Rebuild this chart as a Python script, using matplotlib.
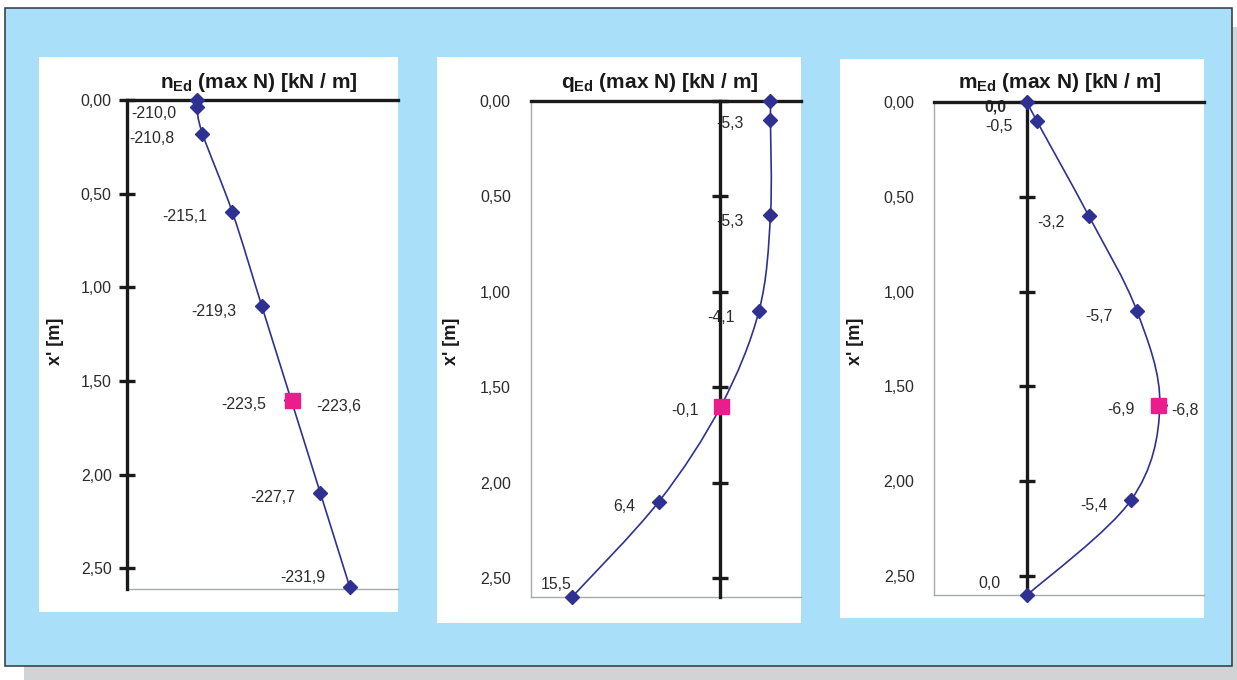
import numpy as np
import matplotlib
matplotlib.use("Agg")
import matplotlib.pyplot as plt
from matplotlib.patches import Rectangle, PathPatch
from matplotlib.path import Path

plt.rcParams['font.family'] = ['Liberation Sans', 'DejaVu Sans']
plt.rcParams['mathtext.fontset'] = 'custom'
plt.rcParams['mathtext.rm'] = 'Liberation Sans'
plt.rcParams['mathtext.bf'] = 'Liberation Sans:bold'
plt.rcParams['mathtext.it'] = 'Liberation Sans:italic'

# ---------------- data ----------------
xprime_n = [0.0, 0.035, 0.18, 0.6, 1.1, 1.6, 2.1, 2.6]
n_Ed = [-210.0, -210.0, -210.8, -215.1, -219.3, -223.5, -227.7, -231.9]
xprime = [0.0, 0.1, 0.6, 1.1, 1.6, 2.1, 2.6]
q_Ed = [-5.3, -5.3, -5.3, -4.1, -0.1, 6.4, 15.5]
m_Ed = [0.0, -0.5, -3.2, -5.7, -6.9, -5.4, 0.0]
x_max_N = 1.6
n_max = -223.6
q_max = -0.1
m_max = -6.8
ytick_vals = [0.0, 0.5, 1.0, 1.5, 2.0, 2.5]
ytick_labels = ["0,00", "0,50", "1,00", "1,50", "2,00", "2,50"]
titles = [r"$\mathbf{n_{Ed}}$ (max N) [kN / m]",
          r"$\mathbf{q_{Ed}}$ (max N) [kN / m]",
          r"$\mathbf{m_{Ed}}$ (max N) [kN / m]"]
ylabel = "x' [m]"

# ---------------- style ----------------
W, H = 1237, 680
BG = '#A9DFF9'
SHADOW = '#D1D3D4'
FRAME = '#2E3640'
NAVY = '#2E3192'
PINK = '#EC1C8C'
TXT = '#2B2B2B'
GREY = '#A7A9AC'
AXK = '#1A1A1A'
NUM_FS = 11.4


def frac(x0, y0, x1, y1):
    return [x0 / W, 1 - y1 / H, (x1 - x0) / W, (y1 - y0) / H]


def fmt(v):
    return f"{v:.1f}".replace('.', ',')


def smooth_path(xs, ys):
    pts = np.column_stack([xs, ys]).astype(float)
    n = len(pts)
    verts = [pts[0]]
    codes = [Path.MOVETO]
    for i in range(n - 1):
        p0 = pts[i - 1] if i > 0 else pts[i]
        p1 = pts[i]
        p2 = pts[i + 1]
        p3 = pts[i + 2] if i + 2 < n else pts[i + 1]
        c1 = p1 + (p2 - p0) / 6.0
        c2 = p2 - (p3 - p1) / 6.0
        verts += [c1, c2, p2]
        codes += [Path.CURVE4] * 3
    return Path(verts, codes)


fig = plt.figure(figsize=(W / 100, H / 100), dpi=100)
fig.patch.set_facecolor('white')

# shadow + frame
fig.add_artist(Rectangle((24 / W, 0), (W - 24) / W, (680 - 27) / H,
                         transform=fig.transFigure, facecolor=SHADOW,
                         edgecolor='none', zorder=0))
fig.add_artist(Rectangle((5 / W, 1 - 666 / H), (1232 - 5) / W, (666 - 8) / H,
                         transform=fig.transFigure, facecolor=BG,
                         edgecolor=FRAME, linewidth=1.1, zorder=0.5))

panels = [
    dict(box=(39, 57, 398, 612), ax=(127, 100, 398, 589), xlim=(-200, -238.8),
         ylim=(2.61, 0), axis_at=-200, xs=n_Ed, ys=xprime_n, vmax=n_max,
         offs=[None, (-43, 5), (-51, 3), (-48, 3), (-48, 4), (-47, 3), (-48, 3), (-47, -11)],
         off_max=(47, 5), title_x=259, ylab_x=56, pad=11),
    dict(box=(437, 57, 801, 623), ax=(531, 101, 801, 597), xlim=(19.8, -8.5),
         ylim=(2.6, 0), axis_at=0, xs=q_Ed, ys=xprime, vmax=q_max,
         offs=[None, (-41, 2), (-41, 5), (-38, 5), (-36, 3), (-35, 3), (-16, -14)],
         off_max=None, title_x=660, ylab_x=452, pad=14.5),
    dict(box=(840, 59, 1204, 618), ax=(934, 102, 1204, 595), xlim=(4.85, -9.2),
         ylim=(2.6, 0), axis_at=0, xs=m_Ed, ys=xprime, vmax=m_max,
         offs=[(-32, 4), (-38, 4), (-38, 5), (-38, 4), (-39, 3), (-37, 4), (-38, -13)],
         off_max=(27, 4), title_x=1060, ylab_x=856, pad=14),
]

for k, p in enumerate(panels):
    x0, y0, x1, y1 = p['box']
    fig.add_artist(Rectangle((x0 / W, 1 - y1 / H), (x1 - x0) / W, (y1 - y0) / H,
                             transform=fig.transFigure, facecolor='white',
                             edgecolor='none', zorder=1))
    ax = fig.add_axes(frac(*p['ax']))
    ax.set_zorder(2)
    ax.patch.set_visible(False)
    ax.set_xlim(*p['xlim'])
    ax.set_ylim(*p['ylim'])
    for s in ['top', 'right']:
        ax.spines[s].set_visible(False)
    for s in ['left', 'bottom']:
        ax.spines[s].set_color(GREY)
        ax.spines[s].set_linewidth(1.0)
    ax.set_xticks([])
    ax.set_yticks(ytick_vals)
    ax.set_yticklabels(ytick_labels)
    ax.tick_params(axis='y', length=0, pad=p['pad'], labelsize=NUM_FS, labelcolor=TXT)

    # black axes
    ax.axhline(0, color=AXK, lw=2.4, zorder=6, clip_on=False)
    ax.axvline(p['axis_at'], color=AXK, lw=2.4, zorder=6, clip_on=False)
    ax.plot([p['axis_at']] * len(ytick_vals), ytick_vals, ls='none', marker='_',
            ms=11, mew=2.4, color=AXK, zorder=6, clip_on=False)

    # series
    ax.add_patch(PathPatch(smooth_path(p['xs'], p['ys']), facecolor='none',
                           edgecolor=NAVY, lw=1.2, zorder=7))
    ax.plot(p['xs'], p['ys'], ls='none', marker='D', ms=6.8, color=NAVY,
            zorder=8, clip_on=False)
    ax.plot([p['vmax']], [x_max_N], ls='none', marker='s', ms=10.8, color=PINK,
            zorder=9, clip_on=False)

    # data labels
    for i, (v, xp) in enumerate(zip(p['xs'], p['ys'])):
        off = p['offs'][i]
        if off is None:
            continue
        bold = (k == 2 and i == 0)
        ax.annotate(fmt(v), xy=(v, xp), xytext=(off[0], -off[1]),
                    textcoords='offset pixels', ha='center', va='center_baseline',
                    fontsize=NUM_FS, color=TXT, zorder=3,
                    fontweight='bold' if bold else 'normal')
    if p['off_max'] is not None:
        ax.annotate(fmt(p['vmax']), xy=(p['vmax'], x_max_N),
                    xytext=(p['off_max'][0], -p['off_max'][1]),
                    textcoords='offset pixels', ha='center', va='center_baseline',
                    fontsize=NUM_FS, color=TXT, zorder=3)

    # title and y label
    fig.text(p['title_x'] / W, 1 - 88 / H, titles[k], ha='center', va='baseline',
             fontsize=15, fontweight='bold', color=AXK, zorder=10)
    ax.set_ylabel(ylabel, fontsize=13, fontweight='bold', color=AXK)
    ax.yaxis.set_label_coords(p['ylab_x'] / W, 1 - 341 / H, transform=fig.transFigure)
    ax.yaxis.label.set_va('center')

fig.savefig('out.png', dpi=100, facecolor='white')
